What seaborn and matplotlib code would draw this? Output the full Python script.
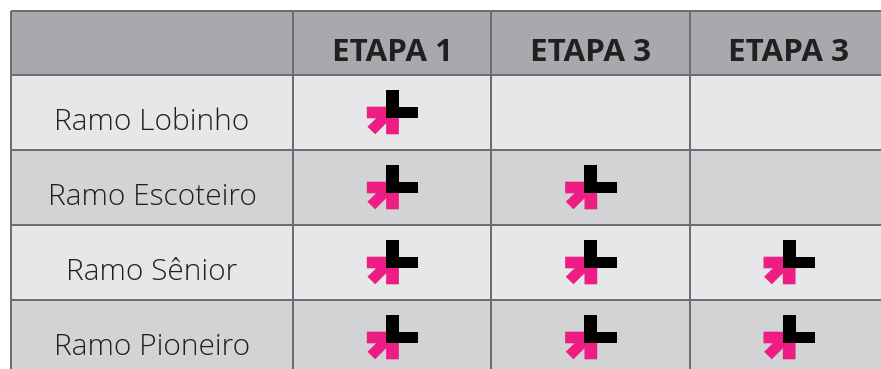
import matplotlib
matplotlib.use('Agg')
import matplotlib.pyplot as plt
from matplotlib.colors import ListedColormap
import seaborn as sns
import numpy as np

# table content
etapas = ['ETAPA 1', 'ETAPA 3', 'ETAPA 3']
ramos = ['Ramo Lobinho', 'Ramo Escoteiro', 'Ramo Sênior', 'Ramo Pioneiro']
marcado = [[1, 0, 0],
           [1, 1, 0],
           [1, 1, 1],
           [1, 1, 1]]

W, H = 881, 369
# pixel grid of the table
xs = [11, 293, 491, 690, 888]
ys = [11, 75, 150, 225, 300, 375]

HEAD = '#a7a9ac'
LIGHT = '#e6e7e8'
DARK = '#d1d3d4'
LINE = '#6d6e71'
TEXT = '#231f20'
PINK = '#ee1d83'

sns.set_theme(style='white')
plt.rcParams['font.family'] = ['Open Sans', 'DejaVu Sans']

fig = plt.figure(figsize=(W / 100, H / 100), dpi=100, facecolor='white')


def make_grid(x0, x1, y0, y1, values, colors):
    ax = fig.add_axes([x0 / W, 1 - y1 / H, (x1 - x0) / W, (y1 - y0) / H])
    sns.heatmap(values, ax=ax, cmap=ListedColormap(colors), vmin=0, vmax=len(colors) - 1,
                cbar=False, linewidths=1.3, linecolor=LINE, xticklabels=False, yticklabels=False)
    ax.collections[0].set_clip_on(False)
    return ax


def draw_icon(ax, col, row):
    # icon outline is given in pixels around the cell centre
    sx = 1 / (xs[2] - xs[1])
    sy = 1 / (ys[2] - ys[1])
    cx, cy = col + 0.5, row + 0.5
    rosa = [(-25.3, -5.8), (6.7, -5.8), (6.7, 21.8), (-6, 21.8), (-6, 10.8),
            (-17, 21.8), (-24.7, 14.2), (-16, 5.8), (-25.3, 5.8)]
    preto = [(-6, -22.5), (6.7, -22.5), (6.7, -5.6), (26, -5.6), (26, 5.6), (-6, 5.6)]
    for pts, cor in ((rosa, PINK), (preto, 'black')):
        pts = np.array(pts)
        ax.fill(cx + pts[:, 0] * sx, cy + pts[:, 1] * sy, color=cor, lw=0, zorder=3)


# header
head_left = make_grid(xs[0], xs[1], ys[0], ys[1], np.zeros((1, 1)), [HEAD])
head_right = make_grid(xs[1], xs[4], ys[0], ys[1], np.zeros((1, 3)), [HEAD])
for i, nome in enumerate(etapas):
    head_right.text(i + 0.5, 0.5 + 10 / 64, nome, ha='center', va='center', fontsize=22.6,
                    fontweight='bold', color=TEXT)

# rows alternate between the light and the darker grey
n_rows = len(ramos)
faixa = np.array([[i % 2] for i in range(n_rows)])

labels = make_grid(xs[0], xs[1], ys[1], ys[5], faixa, [LIGHT, DARK])
for i, nome in enumerate(ramos):
    labels.text(0.5, i + 0.5 + 10 / 75, nome, ha='center', va='center', fontsize=21.5,
                fontweight='light', color=TEXT)

body = make_grid(xs[1], xs[4], ys[1], ys[5], np.repeat(faixa, len(etapas), axis=1), [LIGHT, DARK])
for i, linha in enumerate(marcado):
    for j, v in enumerate(linha):
        if v:
            draw_icon(body, j, i)

fig.savefig('out.png', dpi=100)
